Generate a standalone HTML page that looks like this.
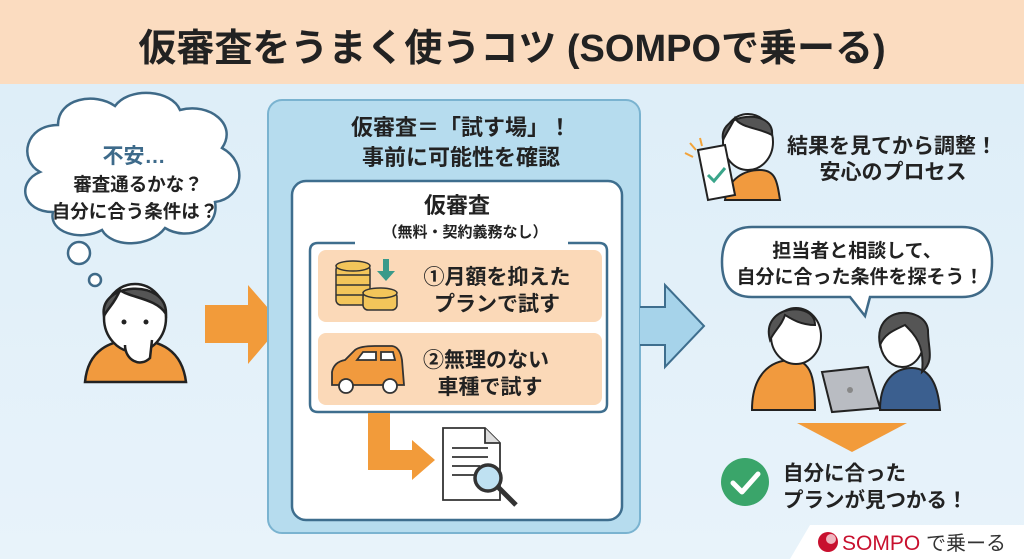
<!DOCTYPE html>
<html><head><meta charset="utf-8"><style>
html,body{margin:0;padding:0;width:1024px;height:559px;overflow:hidden;background:#e4f1f9}
svg{display:block}
text{font-family:"Liberation Sans","Noto Sans CJK JP",sans-serif;font-weight:bold;fill:#222}
</style></head><body>
<svg width="1024" height="559" viewBox="0 0 1024 559" xmlns="http://www.w3.org/2000/svg">
<defs>
<linearGradient id="bg" x1="0" y1="0" x2="0" y2="1"><stop offset="0" stop-color="#dcedf8"/><stop offset="1" stop-color="#e8f3fa"/></linearGradient>
</defs>
<rect x="0" y="0" width="1024" height="559" fill="url(#bg)"/>
<rect x="0" y="0" width="1024" height="84" fill="#fbdcc0"/>
<text x="512" y="61" font-size="38" text-anchor="middle">仮審査をうまく使うコツ (SOMPOで乗ーる)</text>

<!-- thought cloud -->
<g fill="#fff" stroke="#3f6a88" stroke-width="2.5">
<path d="M40,172 C18,160 25,125 58,125 C58,98 95,92 115,106 C130,86 172,90 180,110 C210,102 238,125 222,148 C248,162 244,198 215,202 C220,228 188,242 165,228 C150,248 112,248 102,230 C80,242 48,232 53,212 C22,212 16,182 40,172 Z"/>
<circle cx="79" cy="253" r="11"/>
<circle cx="95" cy="280" r="6"/>
</g>
<text x="134" y="163" font-size="21" text-anchor="middle" style="fill:#3d6a8a">不安…</text>
<text x="138" y="191" font-size="18.5" text-anchor="middle">審査通るかな？</text>
<text x="135" y="218" font-size="18.5" text-anchor="middle">自分に合う条件は？</text>

<!-- left person -->
<g stroke="#222" stroke-width="2.5">
<path d="M85,382 C88,350 110,340 135,340 C160,340 182,350 186,382 Z" fill="#f19a3e"/>
<ellipse cx="135" cy="318" rx="31" ry="34" fill="#fff"/>
<path d="M104,316 C98,282 167,278 166,314 C156,298 130,298 120,290 C115,303 108,308 104,316 Z" fill="#555"/>
<path d="M125,345 C125,360 140,368 150,358 L152,340" fill="#fff"/>
</g>
<circle cx="124" cy="322" r="2.5" fill="#222"/><circle cx="146" cy="322" r="2.5" fill="#222"/>

<!-- orange arrow -->
<path d="M205,305 L248,305 L248,285 L282,324 L248,364 L248,343 L205,343 Z" fill="#f29b3a"/>

<!-- outer panel -->
<rect x="268" y="100" width="372" height="433" rx="14" fill="#b6dcee" stroke="#7ab3d0" stroke-width="2"/>
<text x="461" y="135" font-size="22" text-anchor="middle">仮審査＝「試す場」！</text>
<text x="461" y="165" font-size="22" text-anchor="middle">事前に可能性を確認</text>

<rect x="292" y="181" width="330" height="339" rx="14" fill="#fff" stroke="#3e6e8e" stroke-width="2.5"/>
<text x="457" y="213" font-size="22" text-anchor="middle">仮審査</text>
<text x="465" y="237" font-size="15" text-anchor="middle">（無料・契約義務なし）</text>

<path d="M355,243 L318,243 Q310,243 310,251 L310,404 Q310,412 318,412 L599,412 Q607,412 607,404 L607,251 Q607,243 599,243 L568,243" fill="none" stroke="#3e6e8e" stroke-width="2.5"/>
<rect x="318" y="250" width="284" height="72" rx="8" fill="#fbd9b8"/>
<rect x="318" y="333" width="284" height="72" rx="8" fill="#fbd9b8"/>
<text x="497" y="284" font-size="21" text-anchor="middle">①月額を抑えた</text>
<text x="497" y="311" font-size="21" text-anchor="middle">プランで試す</text>
<text x="486" y="367" font-size="21" text-anchor="middle">②無理のない</text>
<text x="490" y="394" font-size="21" text-anchor="middle">車種で試す</text>

<!-- coins -->
<g stroke="#333" stroke-width="1.5" fill="#f3c55a">
<rect x="336" y="265" width="34" height="40" rx="5"/>
<ellipse cx="353" cy="266" rx="17" ry="5"/>
<line x1="336" y1="275" x2="370" y2="275"/><line x1="336" y1="285" x2="370" y2="285"/><line x1="336" y1="295" x2="370" y2="295"/>
<rect x="363" y="292" width="34" height="18" rx="5"/>
<ellipse cx="380" cy="293" rx="17" ry="5"/>
</g>
<path d="M383,259 L389,259 L389,271 L395,271 L386,281 L377,271 L383,271 Z" fill="#3a9a8a"/>

<!-- car -->
<g stroke="#333" stroke-width="1.8">
<path d="M332,385 L332,372 Q334,362 345,360 L355,350 Q360,346 375,346 L392,346 Q400,347 402,360 L404,385 Z" fill="#f19a3e"/>
<path d="M357,360 L363,352 L376,352 L376,360 Z M381,360 L381,352 L393,352 L395,360 Z" fill="#fff"/>
<circle cx="346" cy="386" r="7" fill="#fff"/><circle cx="390" cy="386" r="7" fill="#fff"/>
</g>

<!-- L arrow -->
<path d="M368,413 L390,413 L390,450 L412,450 L412,440 L435,460 L412,480 L412,470 L368,470 Z" fill="#f29b3a"/>
<!-- doc -->
<g stroke="#333" stroke-width="1.8">
<path d="M443,428 L485,428 L500,443 L500,500 L443,500 Z" fill="#fff"/>
<path d="M485,428 L485,443 L500,443" fill="#ddd"/>
<line x1="452" y1="448" x2="488" y2="448"/><line x1="452" y1="457" x2="488" y2="457"/><line x1="452" y1="466" x2="480" y2="466"/><line x1="452" y1="475" x2="475" y2="475"/>
<line x1="498" y1="487" x2="516" y2="505" stroke-width="5"/>
<circle cx="488" cy="478" r="13" fill="#bfe1f2" stroke-width="3.5"/>
</g>

<!-- blue arrow -->
<path d="M640,307 L665,307 L665,285 L704,326 L665,367 L665,345 L640,345" fill="#a6d3ea" stroke="#3e6e8e" stroke-width="2"/>

<!-- right top person -->
<g stroke="#222" stroke-width="2">
<path d="M725,200 C728,178 745,170 760,170 C775,170 777,180 780,200 Z" fill="#f19a3e"/>
<ellipse cx="748" cy="142" rx="25" ry="28" fill="#fff"/>
<path d="M723,140 C718,112 775,108 772,135 C760,128 740,128 735,118 C730,128 727,132 723,140 Z" fill="#555"/>
<path d="M698,150 L725,145 L735,195 L708,200 Z" fill="#fff"/>
</g>
<path d="M708,175 L714,181 L725,168" fill="none" stroke="#3aa58a" stroke-width="3"/>
<path d="M685,153 L693,157 M690,143 L696,150 M700,138 L702,146" stroke="#f2a33a" stroke-width="2"/>
<text x="892" y="153" font-size="21" text-anchor="middle">結果を見てから調整！</text>
<text x="893" y="179" font-size="21" text-anchor="middle">安心のプロセス</text>

<!-- speech bubble -->
<path d="M752,227 L962,227 Q992,227 992,262 Q992,297 962,297 L870,297 L865,316 L850,297 L752,297 Q722,297 722,262 Q722,227 752,227 Z" fill="#fff" stroke="#3f6a88" stroke-width="2.5"/>
<text x="857" y="257" font-size="19" text-anchor="middle">担当者と相談して、</text>
<text x="860" y="283" font-size="19" text-anchor="middle">自分に合った条件を探そう！</text>

<!-- two people -->
<g stroke="#222" stroke-width="2">
<path d="M752,410 C752,375 770,360 792,360 C812,360 815,380 815,410 Z" fill="#f19a3e"/>
<ellipse cx="796" cy="336" rx="25" ry="28" fill="#fff"/>
<path d="M770,340 C760,305 815,300 815,325 C800,325 790,318 785,315 C782,325 775,330 770,340 Z" fill="#555"/>
<path d="M880,410 C880,380 895,368 912,368 C930,368 938,385 940,410 Z" fill="#3b5f8f"/>
<ellipse cx="902" cy="340" rx="22" ry="27" fill="#fff"/>
<path d="M880,345 C872,305 925,305 928,330 C928,350 935,360 922,372 C925,345 915,335 905,325 C895,330 885,333 880,345 Z" fill="#555"/>
<path d="M822,372 L868,367 L880,408 L832,412 Z" fill="#b9bcc2"/>
</g>
<circle cx="850" cy="390" r="3" fill="#888"/>

<!-- down triangle -->
<path d="M797,423 L907,423 L852,452 Z" fill="#f29b3a"/>
<circle cx="745" cy="482" r="24" fill="#3aa56a"/>
<path d="M733,483 L742,492 L758,474" fill="none" stroke="#fff" stroke-width="5" stroke-linecap="round" stroke-linejoin="round"/>
<text x="783" y="480" font-size="20.5">自分に合った</text>
<text x="783" y="507" font-size="20.5">プランが見つかる！</text>

<!-- logo -->
<path d="M790,559 L810,525 L1024,525 L1024,559 Z" fill="#fff"/>
<circle cx="828" cy="542" r="10" fill="#c8102e"/>
<circle cx="831" cy="539" r="5" fill="#fff" opacity="0.7"/>
<text x="842" y="550" font-size="21" style="font-weight:normal;fill:#c8102e">SOMPO</text>
<text x="926" y="550" font-size="20" style="font-weight:normal;fill:#333">で乗ーる</text>
</svg>
</body></html>
